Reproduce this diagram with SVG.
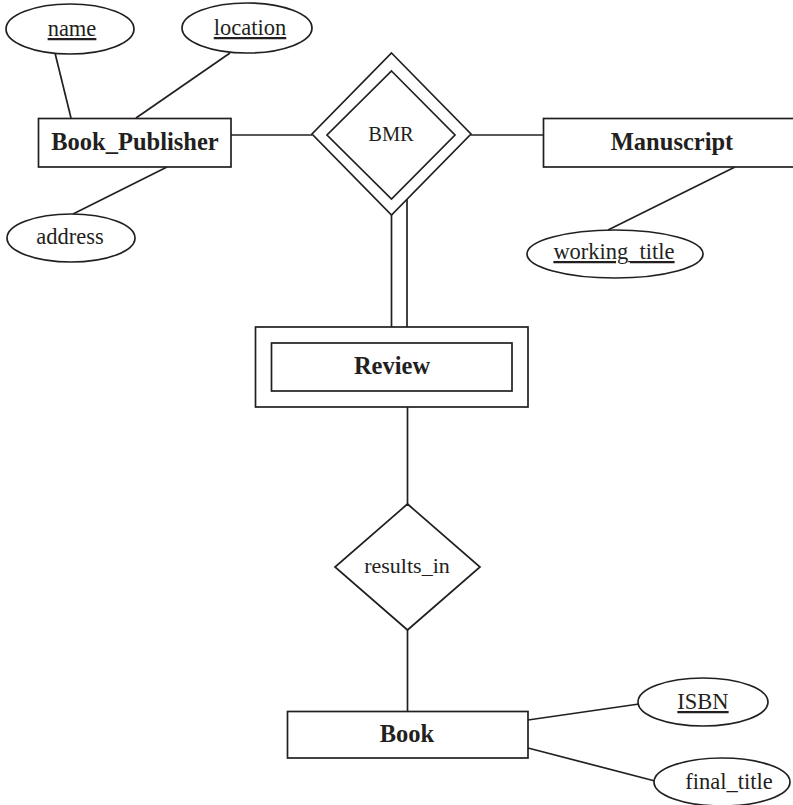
<svg xmlns="http://www.w3.org/2000/svg" width="793" height="805" viewBox="0 0 793 805">
  <style>
    .shape { fill: #fff; stroke: #231f20; stroke-width: 1.7; }
    .line { fill: none; stroke: #231f20; stroke-width: 1.7; }
    .lbl { font-family: "Liberation Serif", "DejaVu Serif", serif; font-size: 22.5px; fill: #231f20; text-anchor: middle; }
    .ent { font-weight: bold; font-size: 24.5px; }
    .key { text-decoration: underline; }
  </style>
  <rect width="793" height="805" fill="#fff"/>

  <!-- connectors -->
  <g id="connectors">
    <line class="line" x1="55" y1="53" x2="71" y2="118"/>
    <line class="line" x1="230" y1="53" x2="136" y2="118"/>
    <line class="line" x1="167" y1="167" x2="73" y2="214"/>
    <line class="line" x1="231" y1="135" x2="312" y2="135"/>
    <line class="line" x1="471" y1="135" x2="543" y2="135"/>
    <line class="line" x1="735" y1="167" x2="608" y2="230"/>
    <line class="line" x1="391.5" y1="215" x2="391.5" y2="327"/>
    <line class="line" x1="407" y1="199" x2="407" y2="327"/>
    <line class="line" x1="407.5" y1="407" x2="407.5" y2="504"/>
    <line class="line" x1="407.5" y1="630" x2="407.5" y2="711"/>
    <line class="line" x1="528" y1="720" x2="639" y2="704"/>
    <line class="line" x1="528" y1="748" x2="655" y2="781"/>
  </g>

  <!-- Book_Publisher and its attributes -->
  <g id="attr-name">
    <ellipse class="shape" cx="70" cy="29" rx="64" ry="25"/>
    <text class="lbl key" x="72" y="36">name</text>
  </g>
  <g id="attr-location">
    <ellipse class="shape" cx="247" cy="28" rx="65" ry="25"/>
    <text class="lbl key" x="250" y="35">location</text>
  </g>
  <g id="attr-address">
    <ellipse class="shape" cx="71" cy="238" rx="64" ry="24"/>
    <text class="lbl" x="70" y="244">address</text>
  </g>
  <g id="entity-book-publisher">
    <rect class="shape" x="38.5" y="118.5" width="192.5" height="48.5"/>
    <text class="lbl ent" x="135" y="150">Book_Publisher</text>
  </g>

  <!-- identifying relationship BMR -->
  <g id="rel-bmr">
    <polygon class="shape" points="391.5,53 471,134 391.5,215 312,134"/>
    <polygon class="shape" points="391.5,71 455,135 391.5,199 327,135"/>
    <text class="lbl" x="391" y="141" style="font-size:20.5px">BMR</text>
  </g>

  <!-- Manuscript -->
  <g id="entity-manuscript">
    <rect class="shape" x="543.5" y="118.5" width="260" height="48.5"/>
    <text class="lbl ent" x="672" y="150">Manuscript</text>
  </g>
  <g id="attr-working-title">
    <ellipse class="shape" cx="615" cy="254" rx="88" ry="24"/>
    <text class="lbl key" x="614" y="259">working_title</text>
  </g>

  <!-- weak entity Review -->
  <g id="entity-review">
    <rect class="shape" x="255.5" y="327" width="272.5" height="80"/>
    <rect class="shape" x="271.5" y="343" width="240.5" height="48"/>
    <text class="lbl ent" x="392" y="374">Review</text>
  </g>

  <!-- results_in -->
  <g id="rel-results-in">
    <polygon class="shape" points="407.5,504 480,567 407.5,630 335,567"/>
    <text class="lbl" x="407" y="573" style="font-size:22px">results_in</text>
  </g>

  <!-- Book and its attributes -->
  <g id="entity-book">
    <rect class="shape" x="287.5" y="711.5" width="240.5" height="46.5"/>
    <text class="lbl ent" x="407" y="742">Book</text>
  </g>
  <g id="attr-isbn">
    <ellipse class="shape" cx="703" cy="702" rx="65" ry="24"/>
    <text class="lbl key" x="703" y="709">ISBN</text>
  </g>
  <g id="attr-final-title">
    <ellipse class="shape" cx="722" cy="782" rx="68" ry="24"/>
    <text class="lbl" x="729" y="789">final_title</text>
  </g>
</svg>
